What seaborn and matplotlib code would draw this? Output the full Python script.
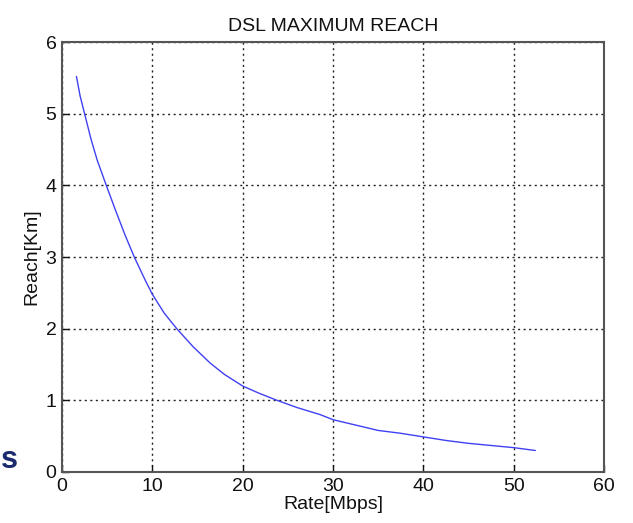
import matplotlib
matplotlib.use("Agg")
import matplotlib.pyplot as plt
import seaborn as sns
import pandas as pd

rate_mbps = [1.6, 2.0, 2.5, 3.2, 3.9, 4.9, 5.9, 7.0, 8.0, 9.2, 10.0, 11.3, 12.7,
             14.5, 16.4, 18.0, 20.0, 21.8, 23.8, 26.0, 28.6, 30.0, 33.0, 35.0,
             37.5, 40.0, 42.5, 45.0, 47.5, 50.0, 52.4]
reach_km = [5.52, 5.25, 5.0, 4.65, 4.35, 4.0, 3.66, 3.3, 3.0, 2.68, 2.48, 2.22, 2.0,
            1.75, 1.52, 1.36, 1.2, 1.1, 1.0, 0.9, 0.80, 0.73, 0.64, 0.58,
            0.54, 0.49, 0.44, 0.40, 0.37, 0.34, 0.30]
x_ticks = [0, 10, 20, 30, 40, 50, 60]
y_ticks = [0, 1, 2, 3, 4, 5, 6]

df = pd.DataFrame({"Rate": rate_mbps, "Reach": reach_km})

sns.set_style("ticks")
plt.rcParams['font.family'] = ['Liberation Sans', 'DejaVu Sans']

fig = plt.figure(figsize=(6.33, 5.23), dpi=100)
ax = fig.add_axes([62/633, 1-472/523, (604-62)/633, (472-42)/523])

sns.lineplot(data=df, x="Rate", y="Reach", ax=ax, color=(0.25, 0.25, 0.95),
             linewidth=1.0, estimator=None, sort=False)

ax.set_xlim(0, 60)
ax.set_ylim(0, 6)
ax.set_xticks(x_ticks)
ax.set_yticks(y_ticks)
ax.tick_params(direction='in', length=5, width=1, labelsize=14, colors='#111111', pad=4)
ax.grid(True, linestyle=(0, (1.5, 2.5)), color='#222222', linewidth=1.0)
for s in ax.spines.values():
    s.set_visible(True)
    s.set_color('#555555')
    s.set_linewidth(1.5)
ax.set_xlabel("Rate[Mbps]", fontsize=14, color='#111111', labelpad=1)
ax.set_ylabel("Reach[Km]", fontsize=14, color='#111111', labelpad=4)
ax.set_title("DSL MAXIMUM REACH", fontsize=14, color='#111111', pad=8)

fig.text(0.5/633, 1-460/523, "s", ha='left', va='center', fontsize=22,
         fontweight='bold', color='#1a2a6c')

fig.savefig("out.png", dpi=100, facecolor='white')
